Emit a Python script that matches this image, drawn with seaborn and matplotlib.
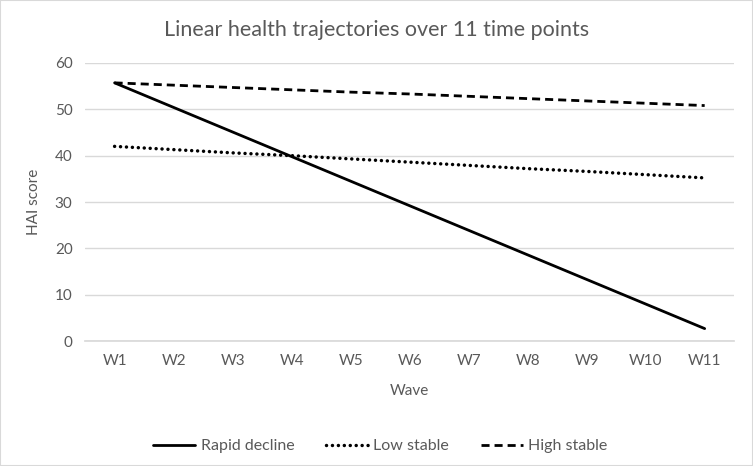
import pandas as pd
import seaborn as sns
import matplotlib.pyplot as plt
from matplotlib.patches import Rectangle

waves = ['W1', 'W2', 'W3', 'W4', 'W5', 'W6', 'W7', 'W8', 'W9', 'W10', 'W11']
rapid_decline = [55.7, 50.4, 45.1, 39.8, 34.5, 29.2, 23.9, 18.6, 13.3, 8.0, 2.7]
low_stable = [42.0, 41.3, 40.6, 40.0, 39.3, 38.6, 37.9, 37.2, 36.6, 35.9, 35.2]
high_stable = [55.7, 55.2, 54.7, 54.2, 53.7, 53.3, 52.8, 52.3, 51.8, 51.3, 50.8]
series_names = ['Rapid decline', 'Low stable', 'High stable']
y_ticks = [0, 10, 20, 30, 40, 50, 60]


def main():
    sns.set_theme(style='white')
    plt.rcParams['font.family'] = ['Lato', 'DejaVu Sans']
    grey = '#595959'

    data = pd.DataFrame({
        'Wave': waves * 3,
        'pos': list(range(len(waves))) * 3,
        'HAI score': rapid_decline + low_stable + high_stable,
        'Group': [n for n in series_names for _ in waves],
    })

    fig = plt.figure(figsize=(7.53, 4.66), dpi=100)
    ax = fig.add_axes([0.113, 0.268, 0.862, 0.597])
    sns.lineplot(data=data, x='pos', y='HAI score', hue='Group',
                 style='Group', palette=['black'] * 3,
                 dashes={'Rapid decline': '',
                         'Low stable': (0.01, 1.7),
                         'High stable': (2.9, 1.8)},
                 linewidth=2.0, ax=ax)
    # round caps turn the tiny dashes into dots
    ax.lines[1].set_linewidth(2.5)
    ax.lines[1].set_dash_capstyle('round')

    ax.set_xlim(-0.5, len(waves) - 0.5)
    ax.set_ylim(0, 60)
    ax.set_xticks(range(len(waves)))
    ax.set_xticklabels(waves)
    ax.set_yticks(y_ticks)
    ax.grid(axis='y', color='#d9d9d9', linewidth=1)
    ax.set_axisbelow(True)
    for s in ['top', 'right', 'left']:
        ax.spines[s].set_visible(False)
    ax.spines['bottom'].set_color('#d9d9d9')
    ax.tick_params(axis='both', colors=grey, labelsize=11, length=0, pad=9)
    ax.set_xlabel('Wave', color=grey, fontsize=11, labelpad=12)
    ax.set_ylabel('HAI score', color=grey, fontsize=11, labelpad=10)
    # title is centred on the whole figure, not the axes
    fig.text(0.5, 0.936, 'Linear health trajectories over 11 time points',
             color=grey, fontsize=15.5, ha='center', va='center')

    handles, labels = ax.get_legend_handles_labels()
    leg = ax.legend(handles, labels, loc='upper center',
                    bbox_to_anchor=(0.455, -0.3), ncol=3, frameon=False,
                    fontsize=11.5, labelcolor=grey, handlelength=2.6,
                    columnspacing=2.0, handletextpad=0.35)
    leg.get_lines()[1].set_linewidth(2.5)
    leg.get_lines()[1].set_dash_capstyle('round')

    fig.patches.append(Rectangle((0, 0), 1, 1, transform=fig.transFigure,
                                 fill=False, edgecolor='#d9d9d9',
                                 linewidth=1.5))
    fig.savefig('out.png', dpi=100)


if __name__ == '__main__':
    main()
